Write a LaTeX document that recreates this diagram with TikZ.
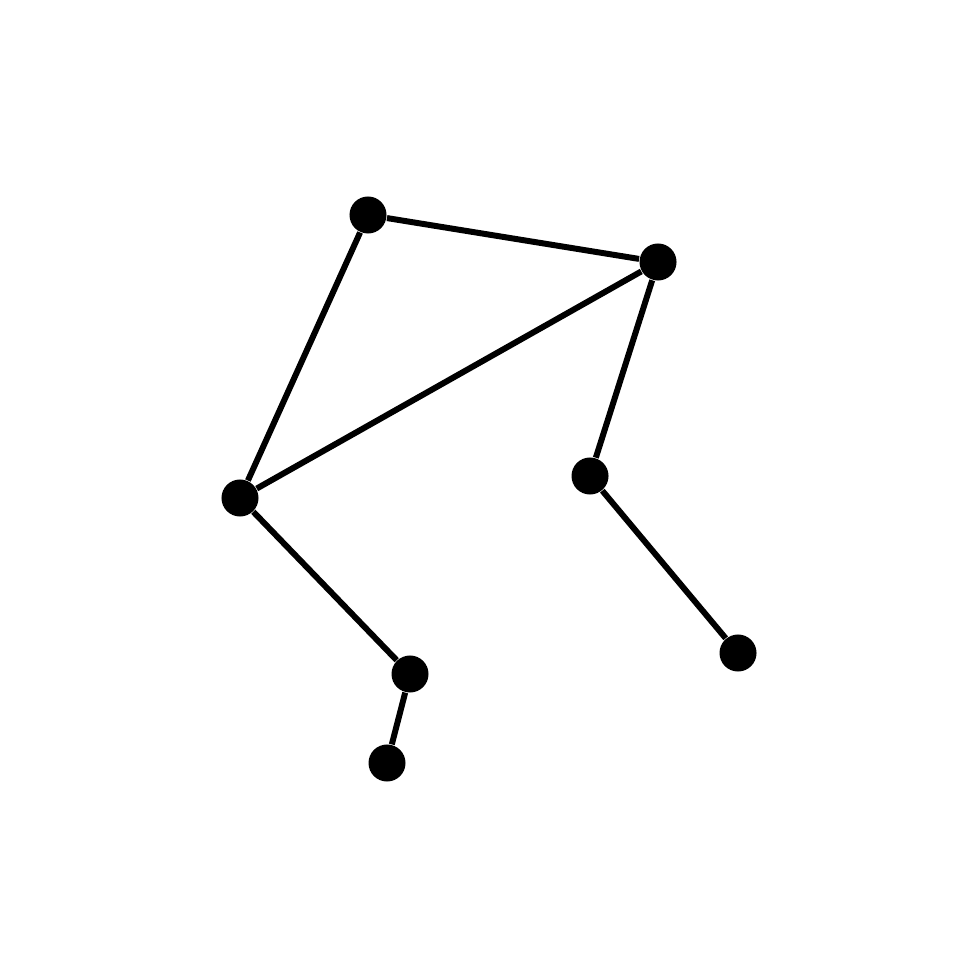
\documentclass[tikz,border=0pt]{standalone}
\usepackage{tikz}

\begin{document}
\begin{tikzpicture}[x=0.01cm,y=-0.01cm,
	star/.style={circle,fill=black,inner sep=0pt,minimum size=0.37cm},
	link/.style={line width=1.7pt}]
\useasboundingbox (0,0) rectangle (980,980);
\node[star] (s1) at (368,215) {};
\node[star] (s2) at (658,262) {};
\node[star] (s3) at (240,498) {};
\node[star] (s4) at (590,476) {};
\node[star] (s5) at (738,653) {};
\node[star] (s6) at (410,674) {};
\node[star] (s7) at (387,763) {};
\foreach \a/\b in {s1/s2,s1/s3,s2/s3,s2/s4,s4/s5,s3/s6,s6/s7}
	\draw[link] (\a) -- (\b);
\end{tikzpicture}
\end{document}
